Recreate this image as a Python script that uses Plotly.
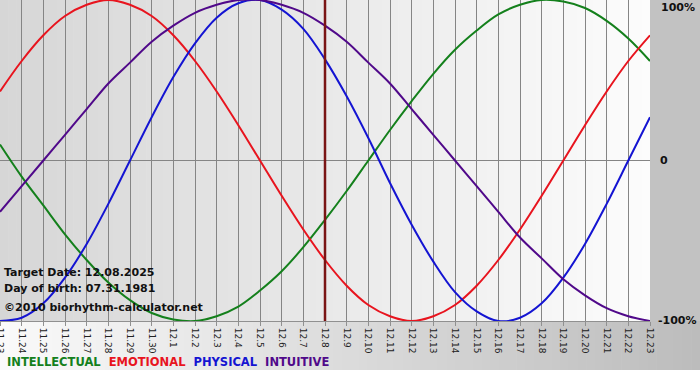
import plotly.graph_objects as go

days = ["11.23", "11.24", "11.25", "11.26", "11.27", "11.28", "11.29", "11.30",
        "12.1", "12.2", "12.3", "12.4", "12.5", "12.6", "12.7", "12.8", "12.9",
        "12.10", "12.11", "12.12", "12.13", "12.14", "12.15", "12.16", "12.17",
        "12.18", "12.19", "12.20", "12.21", "12.22", "12.23"]

intellectual = [0.10, -0.10, -0.28, -0.46, -0.62, -0.76, -0.87, -0.95, -0.99, -1.00,
                -0.97, -0.91, -0.81, -0.69, -0.54, -0.37, -0.19, 0.00, 0.19, 0.37,
                0.54, 0.69, 0.81, 0.91, 0.97, 1.00, 0.99, 0.95, 0.87, 0.76, 0.62]
emotional = [0.43, 0.62, 0.78, 0.90, 0.97, 1.00, 0.97, 0.90, 0.78, 0.62,
             0.43, 0.22, 0.00, -0.22, -0.43, -0.62, -0.78, -0.90, -0.97, -1.00,
             -0.97, -0.90, -0.78, -0.62, -0.43, -0.22, 0.00, 0.22, 0.43, 0.62, 0.78]
physical = [-1.00, -0.98, -0.89, -0.73, -0.52, -0.27, 0.00, 0.27, 0.52, 0.73,
            0.89, 0.98, 1.00, 0.94, 0.82, 0.63, 0.40, 0.14, -0.14, -0.40,
            -0.63, -0.82, -0.94, -1.00, -0.98, -0.89, -0.73, -0.52, -0.27, 0.00, 0.27]
intuitive = [-0.32, -0.16, 0.00, 0.16, 0.32, 0.48, 0.61, 0.74, 0.84, 0.92,
             0.97, 1.00, 1.00, 0.97, 0.92, 0.84, 0.74, 0.61, 0.48, 0.32,
             0.16, 0.00, -0.16, -0.32, -0.48, -0.61, -0.74, -0.84, -0.92, -0.97, -1.00]

target_day = "12.8"
series = [("INTELLECTUAL", intellectual, "#14801c"),
          ("EMOTIONAL", emotional, "#e8141e"),
          ("PHYSICAL", physical, "#1414d2"),
          ("INTUITIVE", intuitive, "#50098a")]

x = list(range(len(days)))
fig = go.Figure()
for name, vals, col in series:
    fig.add_trace(go.Scatter(x=x, y=vals, mode="lines", name=name,
                             line=dict(color=col, width=2, shape="spline", smoothing=1.0),
                             hoverinfo="skip"))

W, H = 700, 380
ML, MR, MT, MB = 0, 50, 0, 59
PW, PH = W - ML - MR, H - MT - MB

shapes = []
N = 80
for i in range(N):
    t = (i + 0.5) / N
    g = int(round(214 + (252 - 214) * t))
    shapes.append(dict(type="rect", xref="paper", yref="paper", x0=i / N, x1=(i + 1) / N + 0.001,
                       y0=0, y1=1, fillcolor=f"rgb({g},{g},{g})", line=dict(width=0), layer="below"))
xr = W / PW
for i in range(N):
    t = (i + 0.5) / N
    g = int(round(250 + (188 - 250) * t))
    shapes.append(dict(type="rect", xref="paper", yref="paper", x0=i / N * xr, x1=(i + 1) / N * xr + 0.001,
                       y0=-49 / PH, y1=0, fillcolor=f"rgb({g},{g},{g})", line=dict(width=0), layer="below"))
shapes.append(dict(type="rect", xref="paper", yref="paper", x0=1, x1=xr, y0=0, y1=1.01,
                   fillcolor="rgb(194,194,194)", line=dict(width=0), layer="below"))
ti = days.index(target_day)
shapes.append(dict(type="line", xref="x", yref="paper", x0=ti, x1=ti, y0=0, y1=1,
                   line=dict(color="#7a1414", width=2.5), layer="above"))

font = "DejaVu Sans"
ann = []
for txt, py in [("Target Date: 12.08.2025", 272), ("Day of birth: 07.31.1981", 288),
                ("©2010 biorhythm-calculator.net", 307)]:
    ann.append(dict(text="<b>" + txt + "</b>", xref="paper", yref="paper", x=0, xshift=2,
                    y=1 - py / PH, xanchor="left", yanchor="middle", showarrow=False,
                    font=dict(family=font, size=11, color="#111111")))
legend_txt = "  ".join(f"<span style='color:{c}'>{n}</span>" for n, _, c in series)
ann.append(dict(text="<b>" + legend_txt + "</b>", xref="paper", yref="paper", x=0, xshift=5,
                y=1 - 362 / PH, xanchor="left", yanchor="middle", showarrow=False,
                font=dict(family=font, size=11.5)))
for txt, py, xs in [("100%", 7, 9), ("0", 161, 8), ("-100%", 320, 6)]:
    ann.append(dict(text="<b>" + txt + "</b>", xref="paper", yref="paper", x=1,
                    xshift=xs, y=1 - py / PH,
                    xanchor="left", yanchor="middle", showarrow=False,
                    font=dict(family=font, size=11, color="#111111")))

fig.update_layout(
    width=W, height=H, margin=dict(l=ML, r=MR, t=MT, b=MB, autoexpand=False),
    paper_bgcolor="white", plot_bgcolor="white", showlegend=False,
    shapes=shapes, annotations=ann,
    xaxis=dict(range=[0, len(days) - 1], tickvals=x, ticktext=days, tickangle=90,
               showgrid=True, gridcolor="#858585", gridwidth=1, zeroline=False,
               showline=True, linecolor="#909090", ticks="outside", ticklen=4,
               tickcolor="#909090", tickfont=dict(family=font, size=9, color="#222222"),
               ticklabeloverflow="allow",
               fixedrange=True, automargin=False),
    yaxis=dict(range=[-1, 1], tickvals=[0], showticklabels=False, showgrid=True,
               gridcolor="#858585", gridwidth=1, zeroline=False, showline=False,
               fixedrange=True, automargin=False),
)
fig.write_html("out.html", config={"displayModeBar": False},
               post_script="document.body.style.margin='0';document.body.style.overflow='hidden';")
